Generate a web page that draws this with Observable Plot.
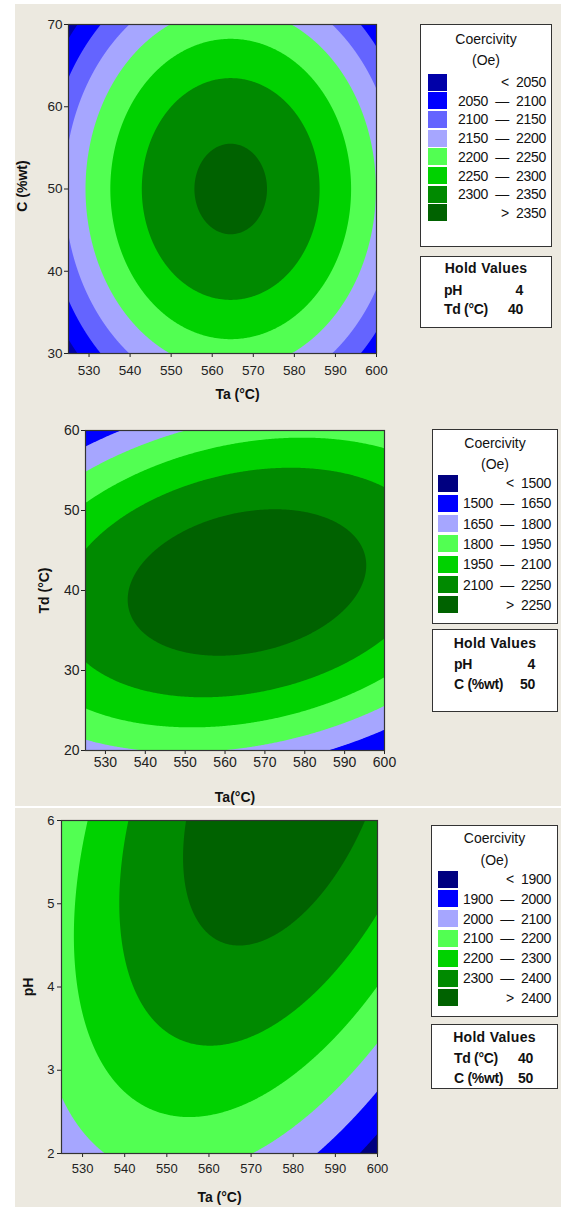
<!DOCTYPE html>
<html>
<head>
<meta charset="utf-8">
<script src="https://cdn.jsdelivr.net/npm/d3@7"></script>
<script src="https://cdn.jsdelivr.net/npm/@observablehq/plot@0.6"></script>
<style>
html, body { margin: 0; padding: 0; background: #ffffff; }
#page { position: relative; width: 561px; height: 1207px; overflow: hidden;
  font-family: "Liberation Sans", Arial, sans-serif; color: #111; }
.bg { position: absolute; background: #ece9e0; }
.sep { position: absolute; background: #ffffff; }
.panel { position: absolute; left: 0; }
.box { position: absolute; background: #ffffff; border: 1px solid #333; box-sizing: border-box; }
.line { position: absolute; left: 0; right: 0; height: 18px; line-height: 18px; white-space: pre; }
.center { text-align: center; }
.sw { position: absolute; }
.txt { position: absolute; height: 18px; line-height: 18px; white-space: pre; font-size: 14px; letter-spacing: -0.3px; }
</style>
</head>
<body>
<div id="page">
  <div class="bg" style="left:15px;top:4px;width:546px;height:1203px;"></div>
  <div class="sep" style="left:15px;top:806px;width:546px;height:2px;"></div>
</div>
<script>
// ---------- Panel 1: Ta vs C (hold pH = 4, Td = 40) ----------
const p1XDomain = [525, 600];
const p1YDomain = [30, 70];
const p1XTicks = [530, 540, 550, 560, 570, 580, 590, 600];
const p1YTicks = [30, 40, 50, 60, 70];
const p1Levels = [2050, 2100, 2150, 2200, 2250, 2300, 2350];
const p1Colors = ["#0000a8", "#0000ff", "#6464ff", "#a6a6ff", "#52ff52", "#00d200", "#008a00", "#006200"];
const p1Peak = 2360;
const p1Center = [564.5, 50];
const p1Curv = [0.128, 0.33, 0];
const p1XLabel = "Ta (°C)";
const p1YLabel = "C (%wt)";
const p1HoldNames = ["pH", "Td (°C)"];
const p1HoldValues = [4, 40];

// ---------- Panel 2: Ta vs Td (hold pH = 4, C = 50) ----------
const p2XDomain = [525, 600];
const p2YDomain = [20, 60];
const p2XTicks = [530, 540, 550, 560, 570, 580, 590, 600];
const p2YTicks = [20, 30, 40, 50, 60];
const p2Levels = [1500, 1650, 1800, 1950, 2100, 2250];
const p2Colors = ["#000080", "#0000ff", "#a6a6ff", "#52ff52", "#00d200", "#008a00", "#006200"];
const p2Peak = 2353;
const p2Center = [565.5, 41];
const p2Curv = [0.1217, 1.30, -0.186];
const p2XLabel = "Ta(°C)";
const p2YLabel = "Td (°C)";
const p2HoldNames = ["pH", "C (%wt)"];
const p2HoldValues = [4, 50];

// ---------- Panel 3: Ta vs pH (hold Td = 40, C = 50) ----------
const p3XDomain = [525, 600];
const p3YDomain = [2, 6];
const p3XTicks = [530, 540, 550, 560, 570, 580, 590, 600];
const p3YTicks = [2, 3, 4, 5, 6];
const p3Levels = [1900, 2000, 2100, 2200, 2300, 2400];
const p3Colors = ["#000080", "#0000ff", "#a6a6ff", "#52ff52", "#00d200", "#008a00", "#006200"];
const p3Peak = 2462;
const p3Center = [578.4, 6.45];
const p3Curv = [0.1301, 20.58, -1.497];
const p3XLabel = "Ta (°C)";
const p3YLabel = "pH";
const p3HoldNames = ["Td (°C)", "C (%wt)"];
const p3HoldValues = [40, 50];

const legendTitle = ["Coercivity", "(Oe)"];
const holdTitle = "Hold Values";

// fitted second-order response surface (peak, centre, curvature)
function surface(peak, center, curv) {
  return (x, y) => {
    const dx = x - center[0], dy = y - center[1];
    return peak - (curv[0] * dx * dx + curv[1] * dy * dy + curv[2] * dx * dy);
  };
}

const page = document.getElementById("page");

function panel(cfg) {
  const fn = surface(cfg.peak, cfg.center, cfg.curv);
  const font = "'Liberation Sans', Arial, sans-serif";
  const svg = Plot.plot({
    width: cfg.width, height: cfg.height,
    marginLeft: cfg.m[0], marginRight: cfg.m[1], marginTop: cfg.m[2], marginBottom: cfg.m[3],
    style: {background: "transparent", fontFamily: font, fontSize: cfg.tickFont + "px", color: "#222"},
    x: {domain: cfg.xDomain, ticks: cfg.xTicks, tickSize: 4, tickPadding: cfg.xPad, label: null, tickFormat: d => String(d)},
    y: {domain: cfg.yDomain, ticks: cfg.yTicks, tickSize: 4, tickPadding: cfg.yPad, label: null, tickFormat: d => String(d)},
    color: {type: "threshold", domain: cfg.levels, range: cfg.colors},
    marks: [
      Plot.frame({fill: cfg.colors[0]}),
      Plot.contour({
        fill: fn,
        x1: cfg.xDomain[0], x2: cfg.xDomain[1], y1: cfg.yDomain[0], y2: cfg.yDomain[1],
        thresholds: cfg.levels, pixelSize: 1, stroke: "none"
      }),
      Plot.frame({stroke: "#333", strokeWidth: 1.2}),
      Plot.text([cfg.xLabel], {text: d => d, frameAnchor: "bottom", dy: cfg.xTitle[1], dx: cfg.xTitle[0],
        textAnchor: "middle", lineAnchor: "middle", fontWeight: "bold", fontSize: 14, fill: "#111"}),
      Plot.text([cfg.yLabel], {text: d => d, frameAnchor: "left", rotate: -90, dx: cfg.yTitle[0], dy: cfg.yTitle[1],
        textAnchor: "middle", lineAnchor: "middle", fontWeight: "bold", fontSize: 14, fill: "#111"})
    ]
  });
  const holder = document.createElement("div");
  holder.className = "panel";
  holder.style.top = cfg.top + "px";
  holder.style.width = cfg.width + "px";
  holder.appendChild(svg);
  page.appendChild(holder);
}

function el(cls, styles, text) {
  const d = document.createElement("div");
  d.className = cls;
  Object.assign(d.style, styles);
  if (text !== undefined) d.textContent = text;
  return d;
}

function legend(levels, colors, L) {
  const box = el("box", {left: L.left + "px", top: L.top + "px", width: L.w + "px", height: L.h + "px"});
  legendTitle.forEach((t, i) => {
    box.appendChild(el("line center", {top: (L.titles[i] - 9) + "px", fontSize: "14px"}, t));
  });
  colors.forEach((c, i) => {
    const cy = L.r0 + i * L.dr;
    box.appendChild(el("sw", {left: L.sx + "px", top: (cy - L.sh / 2) + "px", width: L.sw + "px", height: L.sh + "px", background: c}));
    let label;
    if (i === 0) label = "<  " + levels[0];
    else if (i === colors.length - 1) label = ">  " + levels[levels.length - 1];
    else label = levels[i - 1] + "  \u2014  " + levels[i];
    box.appendChild(el("txt", {right: L.pr + "px", top: (cy - 9) + "px"}, label));
  });
  page.appendChild(box);
}

function hold(names, values, H) {
  const box = el("box", {left: H.left + "px", top: H.top + "px", width: H.w + "px", height: H.h + "px"});
  box.appendChild(el("line center", {top: (H.rows[0] - 9) + "px", fontSize: "14px", fontWeight: "bold", letterSpacing: "0.3px"}, holdTitle));
  names.forEach((n, i) => {
    const cy = H.rows[i + 1];
    box.appendChild(el("txt", {left: H.nl + "px", top: (cy - 9) + "px", fontWeight: "bold"}, n));
    box.appendChild(el("txt", {right: H.vr + "px", top: (cy - 9) + "px", fontWeight: "bold"}, String(values[i])));
  });
  page.appendChild(box);
}

// Panel 1
panel({top: 0, width: 400, height: 407, m: [68, 24, 24, 54], tickFont: 13.5, xPad: 8, yPad: 2,
  xDomain: p1XDomain, yDomain: p1YDomain, xTicks: p1XTicks, yTicks: p1YTicks,
  levels: p1Levels, colors: p1Colors, peak: p1Peak, center: p1Center, curv: p1Curv,
  xLabel: p1XLabel, yLabel: p1YLabel, xTitle: [15, 41], yTitle: [-46, -3]});
legend(p1Levels, p1Colors, {left: 420, top: 24, w: 132, h: 223, titles: [14, 35], r0: 57, dr: 18.7, sx: 7, sw: 19, sh: 17, pr: 5});
hold(p1HoldNames, p1HoldValues, {left: 420, top: 256, w: 132, h: 72, rows: [11, 33, 52], nl: 23, vr: 28});

// Panel 2
panel({top: 400, width: 400, height: 407, m: [85, 16, 30, 57], tickFont: 14, xPad: 3, yPad: 2,
  xDomain: p2XDomain, yDomain: p2YDomain, xTicks: p2XTicks, yTicks: p2YTicks,
  levels: p2Levels, colors: p2Colors, peak: p2Peak, center: p2Center, curv: p2Curv,
  xLabel: p2XLabel, yLabel: p2YLabel, xTitle: [0, 47], yTitle: [-41, 0]});
legend(p2Levels, p2Colors, {left: 432, top: 429, w: 126, h: 195, titles: [13, 34], r0: 53, dr: 20.3, sx: 5, sw: 20, sh: 17, pr: 6});
hold(p2HoldNames, p2HoldValues, {left: 432, top: 629, w: 126, h: 83, rows: [13, 34, 54], nl: 21, vr: 22});

// Panel 3
panel({top: 807, width: 400, height: 400, m: [61, 23, 13, 54], tickFont: 13, xPad: 6, yPad: 3,
  xDomain: p3XDomain, yDomain: p3YDomain, xTicks: p3XTicks, yTicks: p3YTicks,
  levels: p3Levels, colors: p3Colors, peak: p3Peak, center: p3Center, curv: p3Curv,
  xLabel: p3XLabel, yLabel: p3YLabel, xTitle: [0, 44], yTitle: [-33, 0]});
legend(p3Levels, p3Colors, {left: 431, top: 825, w: 127, h: 192, titles: [12, 34], r0: 53, dr: 19.8, sx: 6, sw: 20, sh: 17, pr: 6});
hold(p3HoldNames, p3HoldValues, {left: 431, top: 1024, w: 127, h: 65, rows: [12, 33, 53], nl: 22, vr: 24});
</script>
</body>
</html>
